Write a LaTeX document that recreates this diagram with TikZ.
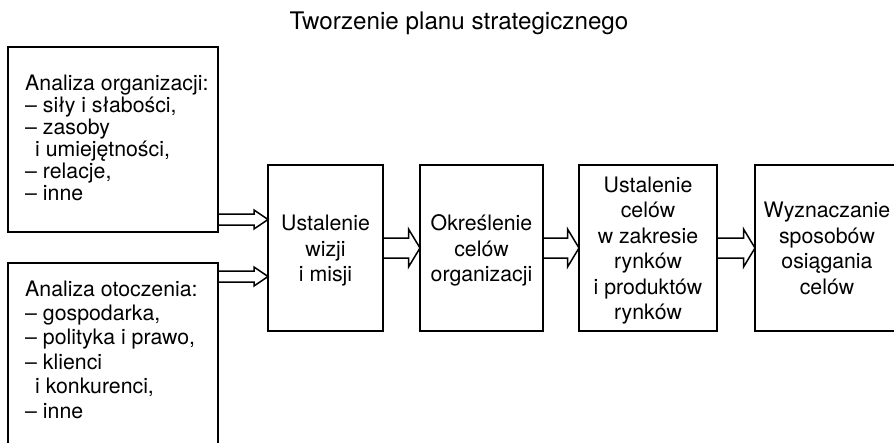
\documentclass[tikz,border=0pt]{standalone}
\usepackage{fontspec}
\setmainfont{TeX Gyre Heros}
\usetikzlibrary{calc}
% struts that fix the first-line height and last-line depth of the stage boxes
\newcommand\topst{\rule{0pt}{21pt}}
\newcommand\botst{\rule[-5pt]{0pt}{5pt}}
\newcommand\ind{\hspace*{10pt}}
% hollow block arrow: start, tip, shaft half-width, head half-width, head length
\newcommand\hollowarrow[5]{%
  \draw[hollow] ($#1+(0,-#3)$) -- ($#2+(-#5,-#3)$) -- ($#2+(-#5,-#4)$) -- #2
    -- ($#2+(-#5,#4)$) -- ($#2+(-#5,#3)$) -- ($#1+(0,#3)$);}
\begin{document}
\begin{tikzpicture}[x=1pt,y=-1pt,
  stagebox/.style={draw, line width=1.8pt, outer sep=0pt, inner sep=0pt,
    font=\fontsize{21.3}{25.5}\selectfont, align=center,
    minimum height=166pt, anchor=north west},
  srcbox/.style={draw, line width=2.2pt, outer sep=0pt, inner sep=0pt, anchor=north west},
  srctext/.style={inner sep=0pt, align=left, anchor=base west},
  hollow/.style={draw, line width=1.5pt, line join=miter}]
\useasboundingbox (0,0) rectangle (894,442);

\node[font=\fontsize{24.2}{29}\selectfont, anchor=base] (title) at (459,29)
  {Tworzenie planu strategicznego};

% the four stages of the plan
\node[stagebox, minimum width=115pt] (vision) at (268,165)
  {\topst Ustalenie\\wizji\\i misji\botst};
\node[stagebox, minimum width=123pt] (goals) at (420,165)
  {\topst Określenie\\celów\\organizacji\botst};
\node[stagebox, minimum width=138pt] (market) at (579,165)
  {\topst Ustalenie\\celów\\w zakresie\\rynków\\i produktów\\rynków\botst};
\node[stagebox, minimum width=144pt] (means) at (755,165)
  {\topst Wyznaczanie\\sposobów\\osiągania\\celów\botst};

% the two analyses feeding the first stage (text placed by its last baseline)
\node[srcbox, minimum width=210pt, minimum height=185pt] (org) at (8,47) {};
\node[srctext, font=\fontsize{21.3}{22}\selectfont] (orgtext)
  at ($(org.north west)+(17,153)$)
  {Analiza organizacji:\\– siły i słabości,\\– zasoby\\\ind i umiejętności,\\– relacje,\\– inne};

\node[srcbox, minimum width=210pt, minimum height=200pt] (env) at (8,263) {};
\node[srctext, font=\fontsize{21.3}{24.4}\selectfont] (envtext)
  at ($(env.north west)+(17,155)$)
  {Analiza otoczenia:\\– gospodarka,\\– polityka i prawo,\\– klienci\\\ind i konkurenci,\\– inne};

% connectors
\coordinate (inA) at ($(vision.west)+(0,-28.5)$);
\coordinate (inB) at ($(vision.west)+(0,28.5)$);
\coordinate (outA) at (org.east |- inA);
\coordinate (outB) at (env.east |- inB);
\hollowarrow{(outA)}{(inA)}{5.5}{9.5}{14}
\hollowarrow{(outB)}{(inB)}{5.5}{9.5}{14}
\hollowarrow{(vision.east)}{(goals.west)}{10}{19}{11.5}
\hollowarrow{(goals.east)}{(market.west)}{10}{19}{11.5}
\hollowarrow{(market.east)}{(means.west)}{10}{19}{11.5}
\end{tikzpicture}
\end{document}
